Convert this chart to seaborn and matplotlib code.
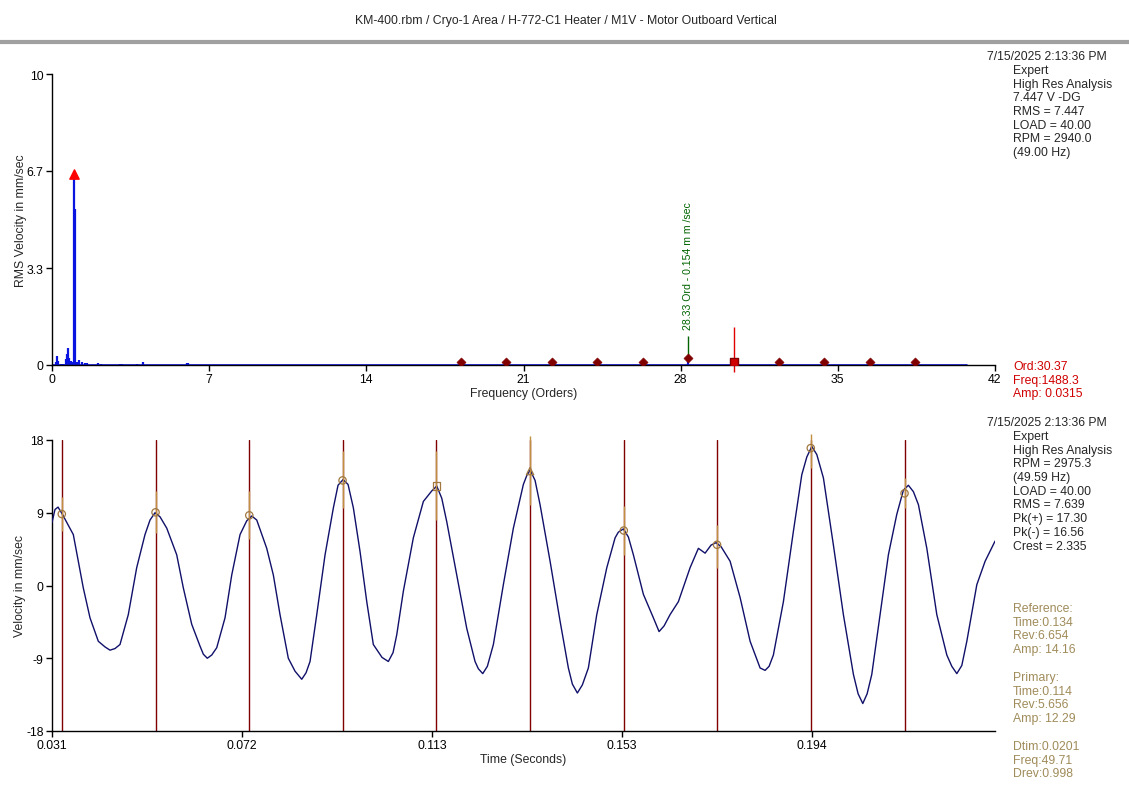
import matplotlib
matplotlib.use("Agg")
import matplotlib.pyplot as plt
import seaborn as sns
import pandas as pd

# ---------------- data ----------------
title = "KM-400.rbm / Cryo-1 Area / H-772-C1 Heater / M1V - Motor Outboard Vertical"

# spectrum peaks (orders, RMS mm/sec)
spec_orders = [0.18, 0.21, 0.28, 0.40, 0.50, 0.62, 0.68, 0.73, 0.77, 0.83, 0.89, 0.95,
               1.00, 1.03, 1.10, 1.22, 1.33, 1.48, 1.55, 2.06, 2.20, 3.03, 3.10, 3.77,
               4.07, 6.00, 6.07, 28.33, 30.37]
spec_amps = [0.10, 0.32, 0.15, 0.03, 0.04, 0.20, 0.38, 0.60, 0.23, 0.15, 0.11, 0.09,
             6.45, 5.36, 0.11, 0.18, 0.09, 0.06, 0.06, 0.07, 0.05, 0.05, 0.04, 0.05,
             0.09, 0.07, 0.08, 0.154, 0.0315]
spec_max_order = 40.75

# harmonic markers (diamonds)
harm_orders = [18.21, 20.24, 22.26, 24.28, 26.31, 28.33, 32.38, 34.40, 36.42, 38.45]
harm_amps = [0.11, 0.11, 0.11, 0.11, 0.11, 0.23, 0.11, 0.11, 0.11, 0.11]
cursor_order = 30.37
cursor_amp = 0.11
peak_order = 1.00
peak_amp = 6.55

top_yticks = [0, 3.33, 6.67, 10]
top_yticklabels = ["0", "3.3", "6.7", "10"]
top_xticks = [0, 7, 14, 21, 28, 35, 42]

# waveform (seconds, mm/sec)
wave_t = [0.03100, 0.03164, 0.03229, 0.03314, 0.03557, 0.03771, 0.03915, 0.04093, 0.04237,
          0.04344, 0.04451, 0.04558, 0.04736, 0.04916, 0.05094, 0.05202, 0.05309, 0.05416,
          0.05560, 0.05774, 0.05916, 0.06096, 0.06274, 0.06345, 0.06430, 0.06525, 0.06632,
          0.06810, 0.06954, 0.07132, 0.07275, 0.07383, 0.07490, 0.07704, 0.07846, 0.07989,
          0.08167, 0.08311, 0.08455, 0.08547, 0.08633, 0.08777, 0.08955, 0.09133, 0.09233,
          0.09341, 0.09448, 0.09562, 0.09705, 0.09849, 0.09990, 0.10177, 0.10312, 0.10413,
          0.10492, 0.10634, 0.10848, 0.11063, 0.11243, 0.11350, 0.11457, 0.11564, 0.11779,
          0.11993, 0.12171, 0.12242, 0.12336, 0.12435, 0.12564, 0.12778, 0.12993, 0.13207,
          0.13280, 0.13351, 0.13458, 0.13565, 0.13780, 0.13994, 0.14172, 0.14258, 0.14365,
          0.14472, 0.14601, 0.14781, 0.14996, 0.15174, 0.15244, 0.15352, 0.15459, 0.15566,
          0.15781, 0.15995, 0.16117, 0.16224, 0.16353, 0.16531, 0.16782, 0.16960, 0.17104,
          0.17232, 0.17340, 0.17447, 0.17640, 0.17855, 0.18069, 0.18283, 0.18390, 0.18476,
          0.18568, 0.18783, 0.18997, 0.19177, 0.19285, 0.19392, 0.19499, 0.19641, 0.19855,
          0.20069, 0.20284, 0.20385, 0.20485, 0.20578, 0.20678, 0.20856, 0.21034, 0.21214,
          0.21356, 0.21463, 0.21571, 0.21678, 0.21858, 0.22072, 0.22287, 0.22394, 0.22501,
          0.22608, 0.22716, 0.22930, 0.23108, 0.23322]
wave_v = [7.8, 9.4, 9.7, 8.9, 6.3, -0.3, -4.0, -6.9, -7.6,
          -8.0, -7.8, -7.3, -3.6, 2.2, 6.3, 8.1, 9.0, 8.5,
          7.1, 3.8, -0.3, -4.8, -7.5, -8.5, -9.0, -8.6, -7.7,
          -4.0, 1.3, 6.3, 8.0, 8.6, 8.1, 4.6, 1.3, -3.6,
          -9.0, -10.6, -11.6, -10.8, -9.4, -3.6, 3.8, 9.6, 12.4,
          13.1, 12.5, 9.6, 4.2, -2.0, -7.3, -8.9, -9.4, -8.3,
          -6.1, -0.7, 5.9, 10.4, 11.7, 12.3, 10.8, 7.9, 1.3,
          -5.3, -9.4, -10.3, -10.9, -10.0, -7.3, 0.1, 7.1, 12.5,
          13.6, 14.3, 13.0, 10.0, 3.0, -4.4, -10.2, -12.2, -13.3,
          -12.3, -10.2, -3.6, 2.2, 5.9, 6.6, 7.0, 6.0, 3.8,
          -1.1, -4.0, -5.7, -5.0, -3.6, -2.0, 2.2, 4.6, 4.0,
          5.0, 5.3, 4.8, 3.0, -1.5, -6.9, -10.2, -10.5, -10.0,
          -8.6, -2.0, 6.7, 13.7, 15.9, 17.2, 16.2, 13.3, 5.0,
          -3.6, -11.0, -13.4, -14.6, -13.4, -11.0, -3.6, 3.8, 8.8,
          11.8, 12.4, 11.6, 10.0, 4.6, -3.6, -8.6, -10.0, -10.9,
          -9.9, -6.9, 0.1, 3.0, 5.5]

cursor_t = [0.0331, 0.0532, 0.0733, 0.0933, 0.1134, 0.1335, 0.1536, 0.1736, 0.1937, 0.2138]
cursor_v = [8.84, 9.05, 8.68, 13.0, 12.29, 14.16, 6.8, 5.04, 17.0, 11.4]
cursor_hi = [11.0, 11.7, 11.7, 16.6, 16.6, 18.5, 9.8, 7.5, 18.8, 13.3]
cursor_lo = [6.7, 6.5, 5.7, 9.6, 8.1, 10.0, 3.8, 2.2, 14.5, 9.6]
cursor_kind = ["o", "o", "o", "o", "s", "^", "o", "o", "o", "o"]

bot_xticks = [0.031, 0.07175, 0.1125, 0.15325, 0.194]
bot_xticklabels = ["0.031", "0.072", "0.113", "0.153", "0.194"]
bot_yticks = [-18, -9, 0, 9, 18]

top_info = ["Expert", "High Res Analysis", "7.447 V -DG", "RMS = 7.447", "LOAD = 40.00",
            "RPM = 2940.0", "(49.00 Hz)"]
top_cursor = ["Ord:30.37", "Freq:1488.3", "Amp: 0.0315"]
bot_info = ["Expert", "High Res Analysis", "RPM = 2975.3", "(49.59 Hz)", "LOAD = 40.00",
            "RMS = 7.639", "Pk(+) = 17.30", "Pk(-) = 16.56", "Crest = 2.335"]
bot_cursor = [["Reference:", "Time:0.134", "Rev:6.654", "Amp: 14.16"],
              ["Primary:", "Time:0.114", "Rev:5.656", "Amp: 12.29"],
              ["Dtim:0.0201", "Freq:49.71", "Drev:0.998"]]
stamp = "7/15/2025 2:13:36 PM"

# ---------------- style ----------------
sns.set_style("ticks")
plt.rcParams["font.family"] = ["Liberation Sans", "DejaVu Sans"]
plt.rcParams["axes.unicode_minus"] = False
FS = 8.8
plt.rcParams["font.size"] = FS

W, H = 1129, 803
fig = plt.figure(figsize=(W / 100, H / 100), dpi=100)


def fx(px):
    return px / W


def fy(py):
    return 1 - py / H


BLUE = "#0a14e0"
NAVY = "#10106a"
DRED = "#800000"
TAN = "#a08c5a"
GREEN = "#006400"

fig.text(fx(566), fy(21), title, ha="center", va="center", fontsize=FS)
fig.add_artist(plt.Line2D([0, 1], [fy(43), fy(43)], color="#a0a0a0", lw=3,
                          transform=fig.transFigure))

# ---------------- top: spectrum ----------------
ax1 = fig.add_axes([fx(52), fy(366), fx(995 - 52), fy(75) - fy(366)])
base = pd.DataFrame({"order": [0, spec_max_order], "amp": [0, 0]})
sns.lineplot(data=base, x="order", y="amp", ax=ax1, color=BLUE, lw=1.2)
ax1.vlines(spec_orders, 0, spec_amps, color=BLUE, lw=1.6)
harm = pd.DataFrame({"order": harm_orders, "amp": harm_amps})
sns.scatterplot(data=harm, x="order", y="amp", ax=ax1, marker="D", s=22,
                color=DRED, edgecolor=DRED, zorder=5)
# green label marker at 28.33
ax1.vlines(28.33, 0.23, 1.0, color=GREEN, lw=1)
ax1.text(28.33, 1.25, "28.33 Ord - 0.154 m m /sec", rotation=90, ha="center",
         va="bottom", color=GREEN, fontsize=7.6)
# red cursor
ax1.vlines(cursor_order, -0.23, 1.32, color="#e00000", lw=1, clip_on=False)
ax1.scatter([cursor_order], [cursor_amp], marker="s", s=30, color="#d00000",
            edgecolor=DRED, zorder=6)
ax1.scatter([peak_order], [peak_amp], marker="^", s=45, color="#ff0000", zorder=6)

ax1.set_xlim(0, 42)
ax1.set_ylim(0, 10)
ax1.set_xticks(top_xticks)
ax1.set_yticks(top_yticks)
ax1.set_yticklabels(top_yticklabels)
ax1.set_xlabel("Frequency (Orders)", fontsize=FS, labelpad=1)
ax1.set_ylabel("RMS Velocity in mm/sec", fontsize=FS, labelpad=0)
sns.despine(ax=ax1)

# ---------------- bottom: waveform ----------------
ax2 = fig.add_axes([fx(52), fy(732), fx(995 - 52), fy(441) - fy(732)])
wave = pd.DataFrame({"t": wave_t, "v": wave_v})
for t in cursor_t:
    ax2.axvline(t, color=DRED, lw=1, zorder=1)
sns.lineplot(data=wave, x="t", y="v", ax=ax2, color=NAVY, lw=1, sort=False,
             estimator=None, zorder=3)
ax2.vlines(cursor_t, cursor_lo, cursor_hi, color="#c09040", lw=1, zorder=4, clip_on=False)
for t, v, m in zip(cursor_t, cursor_v, cursor_kind):
    ax2.scatter([t], [v], marker=m, s=28, facecolor="none", edgecolor="#a07840",
                lw=0.9, zorder=5)

ax2.set_xlim(0.031, 0.2332)
ax2.set_ylim(-18, 18)
ax2.set_xticks(bot_xticks)
ax2.set_xticklabels(bot_xticklabels)
ax2.set_yticks(bot_yticks)
ax2.set_xlabel("Time (Seconds)", fontsize=FS, labelpad=1)
ax2.set_ylabel("Velocity in mm/sec", fontsize=FS, labelpad=0)
sns.despine(ax=ax2)

for ax in (ax1, ax2):
    ax.tick_params(direction="out", length=4, width=1, labelsize=FS, pad=2,
                   colors="black")
    for s in ("left", "bottom"):
        ax.spines[s].set_color("black")
        ax.spines[s].set_linewidth(1)

# ---------------- side texts ----------------
LH = 13.7
fig.text(fx(987), fy(57), stamp, ha="left", va="center", fontsize=FS)
for i, s in enumerate(top_info):
    fig.text(fx(1013), fy(71 + i * LH), s, ha="left", va="center", fontsize=FS)
for i, s in enumerate(top_cursor):
    fig.text(fx(1013), fy(367 + i * LH), s, ha="left", va="center", fontsize=FS,
             color="#d00000")

fig.text(fx(987), fy(423), stamp, ha="left", va="center", fontsize=FS)
for i, s in enumerate(bot_info):
    fig.text(fx(1013), fy(437 + i * LH), s, ha="left", va="center", fontsize=FS)
y0s = [609, 678, 747]
for y0, block in zip(y0s, bot_cursor):
    for i, s in enumerate(block):
        fig.text(fx(1013), fy(y0 + i * LH), s, ha="left", va="center", fontsize=FS,
                 color=TAN)

fig.savefig("out.png", dpi=100)
